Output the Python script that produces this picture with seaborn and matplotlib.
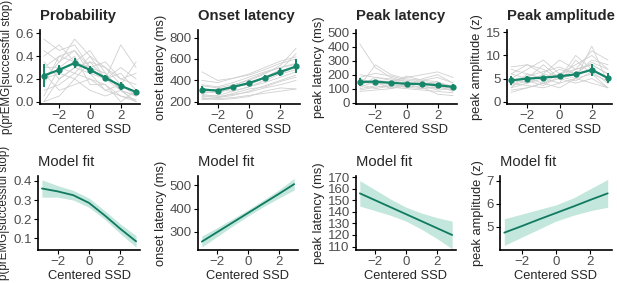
import numpy as np
import pandas as pd
import matplotlib
matplotlib.use("Agg")
import matplotlib.pyplot as plt
import seaborn as sns

sns.set_style("white")
plt.rcParams['font.family'] = ['Liberation Sans', 'DejaVu Sans']

ssd = [-3, -2, -1, 0, 1, 2, 3]

# ---- top row: individual subjects (grey) ----
subj_prob = [
    [0.55, 0.45, 0.50, 0.30, 0.25, 0.10, 0.05],
    [0.00, 0.20, 0.30, 0.35, 0.20, 0.10, 0.00],
    [0.30, 0.40, 0.45, 0.30, 0.35, 0.20, 0.15],
    [0.10, 0.15, 0.25, 0.20, 0.10, 0.05, 0.02],
    [0.45, 0.35, 0.55, 0.40, 0.20, 0.25, 0.10],
    [0.20, 0.25, 0.20, 0.35, 0.30, 0.15, 0.35],
    [0.05, 0.30, 0.40, 0.15, 0.15, 0.05, 0.00],
    [0.35, 0.20, 0.30, 0.25, 0.20, 0.30, 0.20],
    [0.15, 0.40, 0.35, 0.45, 0.25, 0.10, 0.05],
    [0.25, 0.10, 0.15, 0.20, 0.15, 0.00, 0.10],
    [0.40, 0.50, 0.35, 0.30, 0.20, 0.50, 0.30],
    [0.00, 0.05, 0.20, 0.10, 0.05, 0.10, 0.00],
    [0.30, 0.30, 0.25, 0.40, 0.30, 0.20, 0.25],
    [0.20, 0.35, 0.45, 0.25, 0.10, 0.15, 0.05],
]
subj_onset = [
    [250, 260, 300, 340, 400, 460, 500],
    [480, 400, 420, 450, 500, 560, 600],
    [230, 240, 260, 300, 350, 400, 450],
    [300, 280, 330, 380, 430, 500, 650],
    [350, 330, 360, 400, 460, 540, 700],
    [220, 230, 240, 260, 280, 300, 320],
    [280, 300, 350, 410, 470, 520, 560],
    [260, 240, 280, 320, 340, 390, 430],
    [400, 380, 420, 460, 520, 580, 620],
    [320, 310, 300, 340, 380, 430, 480],
    [240, 220, 230, 250, 300, 330, 320],
    [360, 340, 380, 430, 480, 520, 550],
    [300, 320, 340, 360, 420, 470, 520],
    [270, 250, 270, 290, 330, 360, 400],
]
subj_peaklat = [
    [420, 250, 180, 150, 140, 130, 120],
    [120, 270, 200, 170, 160, 150, 110],
    [100, 120, 110, 100, 90, 80, 70],
    [160, 140, 150, 180, 200, 220, 180],
    [80, 90, 100, 120, 110, 60, 50],
    [200, 180, 160, 140, 130, 120, 100],
    [140, 160, 150, 130, 170, 200, 140],
    [90, 110, 130, 110, 100, 110, 90],
    [180, 210, 190, 160, 150, 140, 120],
    [130, 100, 120, 110, 120, 100, 130],
    [150, 130, 140, 190, 160, 180, 140],
    [110, 150, 100, 140, 100, 120, 80],
    [170, 140, 130, 120, 140, 130, 110],
    [120, 180, 170, 150, 120, 90, 100],
]
subj_amp = [
    [7.5, 8.0, 6.0, 5.0, 7.0, 11.0, 9.0],
    [3.0, 4.0, 5.0, 6.0, 7.0, 8.0, 6.0],
    [2.0, 3.0, 4.0, 3.0, 5.0, 4.0, 3.0],
    [5.0, 7.0, 9.0, 6.0, 8.0, 10.0, 7.0],
    [6.0, 5.0, 4.0, 6.0, 5.0, 12.0, 4.0],
    [4.0, 5.0, 8.0, 5.0, 6.0, 7.0, 5.0],
    [3.0, 6.0, 5.0, 4.0, 9.0, 6.0, 4.5],
    [2.5, 3.0, 4.0, 5.0, 4.0, 5.0, 3.0],
    [5.0, 4.0, 6.0, 9.0, 7.0, 8.0, 6.0],
    [7.0, 6.0, 5.0, 7.0, 6.0, 9.0, 8.0],
    [4.0, 3.5, 3.0, 4.0, 5.0, 6.0, 3.0],
    [6.0, 8.0, 7.0, 5.0, 10.0, 7.0, 5.0],
    [4.5, 5.5, 6.5, 7.5, 6.0, 8.5, 7.0],
    [3.5, 4.5, 3.5, 5.5, 4.5, 6.5, 4.0],
]

# ---- top row: group means and error bars ----
mean_prob = [0.23, 0.28, 0.34, 0.28, 0.21, 0.14, 0.085]
err_prob = [0.10, 0.045, 0.045, 0.035, 0.025, 0.035, 0.03]
mean_onset = [315, 305, 340, 375, 425, 480, 530]
err_onset = [30, 15, 18, 20, 25, 35, 65]
mean_peaklat = [148, 150, 142, 135, 133, 125, 112]
err_peaklat = [28, 12, 10, 10, 10, 12, 18]
mean_amp = [4.6, 5.0, 5.2, 5.5, 5.9, 6.9, 5.1]
err_amp = [0.9, 0.6, 0.4, 0.5, 0.6, 1.3, 1.1]

# ---- bottom row: model fits ----
fit_prob = [0.360, 0.345, 0.325, 0.285, 0.220, 0.150, 0.085]
fit_prob_lo = [0.315, 0.315, 0.300, 0.262, 0.200, 0.125, 0.055]
fit_prob_hi = [0.405, 0.375, 0.350, 0.310, 0.245, 0.175, 0.115]
fit_onset = [258, 299, 340, 381, 422, 463, 505]
fit_onset_lo = [235, 280, 325, 368, 408, 445, 480]
fit_onset_hi = [282, 318, 356, 395, 437, 480, 530]
fit_peaklat = [156, 150, 144, 138, 132, 126, 120]
fit_peaklat_lo = [145, 141, 137, 132, 125, 117, 108]
fit_peaklat_hi = [167, 159, 151, 144, 139, 135, 132]
fit_amp = [4.75, 5.03, 5.32, 5.60, 5.88, 6.17, 6.45]
fit_amp_lo = [4.20, 4.55, 4.90, 5.25, 5.50, 5.70, 5.85]
fit_amp_hi = [5.35, 5.55, 5.75, 5.95, 6.25, 6.65, 7.05]

titles = ["Probability", "Onset latency", "Peak latency", "Peak amplitude"]
ylabels = ["p(prEMG|successful stop)", "onset latency (ms)",
           "peak latency (ms)", "peak amplitude (z)"]
ylabel_sizes = [8.4, 9.3, 9.3, 9.3]

TEAL = "#15866a"
DARK = "#0f7a5f"
BAND = "#c3e6dd"
GREY = "#d0d0d0"
TICKC = "#4d4d4d"

W, H = 617, 283
fig = plt.figure(figsize=(W / 100, H / 100), dpi=100)


def box(x0, x1, ytop, ybot):
    return [x0 / W, (H - ybot) / H, (x1 - x0) / W, (ybot - ytop) / H]


top_pos = [(40, 140), (198, 300), (356, 457), (507, 612)]
bot_pos = [(38, 140), (198, 298), (356, 456), (500, 612)]

subj_sets = [subj_prob, subj_onset, subj_peaklat, subj_amp]
means = [mean_prob, mean_onset, mean_peaklat, mean_amp]
errs = [err_prob, err_onset, err_peaklat, err_amp]
top_ylim = [(-0.02, 0.63), (180, 870), (-10, 520), (-0.5, 15.5)]
top_ticks = [[0.0, 0.2, 0.4, 0.6], [200, 400, 600, 800],
             [0, 100, 200, 300, 400, 500], [0, 5, 10, 15]]
top_fmt = ["{:.1f}", "{:.0f}", "{:.0f}", "{:.0f}"]

fits = [(fit_prob, fit_prob_lo, fit_prob_hi), (fit_onset, fit_onset_lo, fit_onset_hi),
        (fit_peaklat, fit_peaklat_lo, fit_peaklat_hi), (fit_amp, fit_amp_lo, fit_amp_hi)]
bot_ylim = [(0.04, 0.425), (222, 540), (107, 171), (4.0, 7.2)]
bot_ticks = [[0.1, 0.2, 0.3, 0.4], [300, 400, 500],
             [110, 120, 130, 140, 150, 160, 170], [5, 6, 7]]
bot_fmt = ["{:.1f}", "{:.0f}", "{:.0f}", "{:.0f}"]


def style(ax, ticks, fmt, ylab, ysize, title, bold):
    ax.set_xlim(-3.25, 3.25)
    ax.set_xticks([-2, 0, 2])
    ax.set_xticklabels(["\u22122", "0", "2"])
    ax.set_yticks(ticks)
    ax.set_yticklabels([fmt.format(t) for t in ticks])
    for s in ["top", "right"]:
        ax.spines[s].set_visible(False)
    for s in ["left", "bottom"]:
        ax.spines[s].set_color("black")
        ax.spines[s].set_linewidth(1.2)
    ax.tick_params(axis="both", length=3, width=0.8, color="black",
                   labelcolor=TICKC, labelsize=9.5, pad=1.5,
                   left=True, bottom=True)
    ax.set_xlabel("Centered SSD", fontsize=9.3, labelpad=1)
    ax.set_ylabel(ylab, fontsize=ysize, labelpad=2)
    ax.set_title(title, loc="left", fontsize=10.6,
                 fontweight="bold" if bold else "normal", pad=7)
    ax.grid(False)


for i in range(4):
    ax = fig.add_axes(box(top_pos[i][0], top_pos[i][1], 30, 104))
    rows = []
    for k, vals in enumerate(subj_sets[i]):
        for x, v in zip(ssd, vals):
            rows.append({"ssd": x, "val": v, "subj": k})
    df = pd.DataFrame(rows)
    sns.lineplot(data=df, x="ssd", y="val", units="subj", estimator=None,
                 color=GREY, linewidth=0.6, ax=ax)
    sns.lineplot(x=ssd, y=means[i], color=TEAL, linewidth=1.6, ax=ax)
    ax.errorbar(ssd, means[i], yerr=errs[i], fmt="o", color=TEAL,
                markersize=3.5, elinewidth=1.4, capsize=0)
    ax.set_ylim(*top_ylim[i])
    style(ax, top_ticks[i], top_fmt[i], ylabels[i], ylabel_sizes[i], titles[i], True)

for i in range(4):
    ax = fig.add_axes(box(bot_pos[i][0], bot_pos[i][1], 176, 250))
    fit, lo, hi = fits[i]
    ax.fill_between(ssd, lo, hi, color=BAND, linewidth=0)
    sns.lineplot(x=ssd, y=fit, color=DARK, linewidth=1.3, ax=ax)
    ax.set_ylim(*bot_ylim[i])
    style(ax, bot_ticks[i], bot_fmt[i], ylabels[i], ylabel_sizes[i], "Model fit", False)

fig.savefig("out.png", dpi=100)
